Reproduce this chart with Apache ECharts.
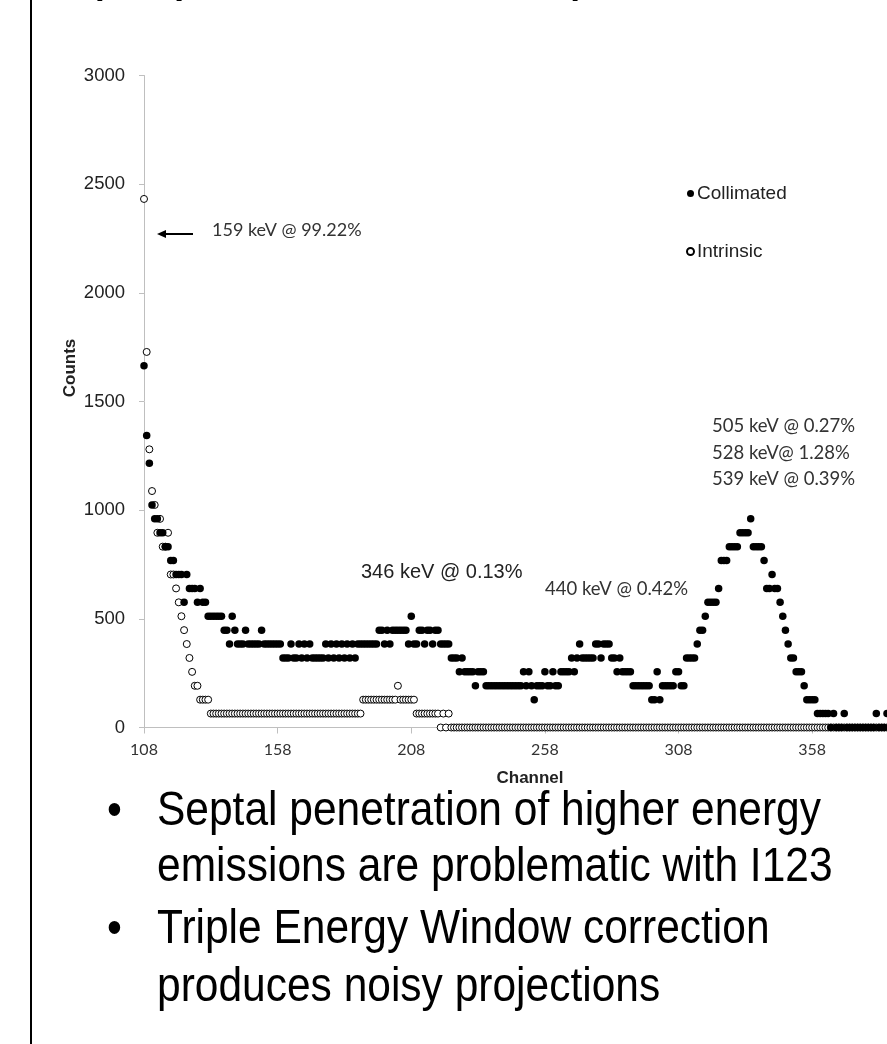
<!DOCTYPE html>
<html><head><meta charset="utf-8">
<script src="https://cdn.jsdelivr.net/npm/echarts@6/dist/echarts.min.js"></script>
<style>html,body{margin:0;padding:0;background:#fff}#c{width:887px;height:1044px}</style>
</head><body><div id="c"></div><script>
// Channel range shown (category axis)
const firstChannel = 108;
const lastChannel = 386;
const xTickLabels = ['108','158','208','258','308','358'];
const yTicks = [0,500,1000,1500,2000,2500,3000];

// Collimated counts, channels 108..386
const collimated = [
 1664,1344,1216,1024,960,960,896,896,832,832,
 768,768,704,704,704,576,704,640,640,640,
 576,640,576,576,512,512,512,512,512,512,
 448,448,384,512,448,384,384,384,448,384,
 384,384,384,384,448,384,384,384,384,384,
 384,384,320,320,320,384,320,320,384,320,
 384,320,384,320,320,320,320,320,384,320,
 384,320,384,320,384,320,384,320,384,320,
 384,384,384,384,384,384,384,384,448,448,
 384,448,384,448,448,448,448,448,448,384,
 512,384,384,448,448,384,448,448,384,448,
 448,384,384,384,384,320,320,320,256,320,
 256,256,256,256,192,256,256,256,192,192,
 192,192,192,192,192,192,192,192,192,192,
 192,192,256,192,256,192,128,192,192,192,
 256,192,192,256,192,192,256,256,256,256,
 320,256,320,384,320,320,320,320,320,384,
 384,320,384,384,384,320,320,256,320,256,
 256,256,256,192,192,192,192,192,192,192,
 128,128,256,128,192,192,192,192,192,256,
 256,192,192,320,320,320,320,384,448,448,
 512,576,576,576,576,640,768,768,768,832,
 832,832,832,896,896,896,896,960,832,832,
 832,832,768,640,640,704,640,640,576,512,
 448,384,320,320,256,256,256,192,128,128,
 128,128,64,64,64,64,64,0,64,0,
 0,0,64,0,0,0,0,0,0,0,
 0,0,0,0,64,0,0,0,64
];

// Intrinsic counts, channels 108..386
const intrinsic = [
 2432,1728,1280,1088,1024,896,960,832,832,896,
 704,704,640,576,512,448,384,320,256,192,
 192,128,128,128,128,64,64,64,64,64,
 64,64,64,64,64,64,64,64,64,64,
 64,64,64,64,64,64,64,64,64,64,
 64,64,64,64,64,64,64,64,64,64,
 64,64,64,64,64,64,64,64,64,64,
 64,64,64,64,64,64,64,64,64,64,
 64,64,128,128,128,128,128,128,128,128,
 128,128,128,128,128,192,128,128,128,128,
 128,128,64,64,64,64,64,64,64,64,
 64,0,64,0,64,0,0,0,0,0,
 0,0,0,0,0,0,0,0,0,0,
 0,0,0,0,0,0,0,0,0,0,
 0,0,0,0,0,0,0,0,0,0,
 0,0,0,0,0,0,0,0,0,0,
 0,0,0,0,0,0,0,0,0,0,
 0,0,0,0,0,0,0,0,0,0,
 0,0,0,0,0,0,0,0,0,0,
 0,0,0,0,0,0,0,0,0,0,
 0,0,0,0,0,0,0,0,0,0,
 0,0,0,0,0,0,0,0,0,0,
 0,0,0,0,0,0,0,0,0,0,
 0,0,0,0,0,0,0,0,0,0,
 0,0,0,0,0,0,0,0,0,0,
 0,0,0,0,0,0,0,0,0,0,
 0,0,0,0,0,0,0,0,0,0,
 0,0,0,0,0,0,0,0,0
];

const seriesNames = ['Collimated','Intrinsic'];
const peakNotes = ['505 keV @ 0.27%','528 keV@ 1.28%','539 keV @ 0.39%'];
const bullets = [
 ['Septal penetration of higher energy','emissions are problematic with I123'],
 ['Triple Energy Window correction','produces noisy projections']
];

const channels = [];
for (let c = firstChannel; c <= lastChannel; c++) channels.push(String(c));

const chart = echarts.init(document.getElementById('c'), null, {renderer:'canvas'});
const calib = 'Lato, "Open Sans", sans-serif';
const arial = 'Arial, "Liberation Sans", sans-serif';

function bulletText(txt, x, y) {
 return {type:'text', x:x, y:y, scaleY:1.12,
  style:{text:txt, x:0, y:0, font:'42.5px ' + arial, fill:'#000', verticalAlign:'middle'}};
}

const graphics = [
 // slide border
 {type:'line', shape:{x1:31,y1:0,x2:31,y2:1044}, style:{stroke:'#000', lineWidth:2}, z:10},
 // cut-off title
 {type:'text', style:{text:'(Septal Penetration)', x:84, y:-27, font:'57px ' + arial, fill:'#000', verticalAlign:'middle', align:'left'}},
 // 159 keV note with arrow
 {type:'text', style:{text:'159 keV @ 99.22%', x:212, y:230, font:'18px ' + calib, fill:'#333', verticalAlign:'middle'}},
 {type:'line', shape:{x1:193,y1:234,x2:164,y2:234}, style:{stroke:'#000', lineWidth:2}},
 {type:'polygon', shape:{points:[[157,234],[166,230],[166,238]]}, style:{fill:'#000'}},
 {type:'text', style:{text:'346 keV @ 0.13%', x:361, y:572, font:'20px ' + arial, fill:'#222', verticalAlign:'middle'}},
 {type:'text', style:{text:'440 keV @ 0.42%', x:545, y:589, font:'18.5px ' + calib, fill:'#333', verticalAlign:'middle'}},
 {type:'text', style:{text:peakNotes[0], x:712, y:426, font:'18.5px ' + calib, fill:'#333', verticalAlign:'middle'}},
 {type:'text', style:{text:peakNotes[1], x:712, y:453, font:'18.5px ' + calib, fill:'#333', verticalAlign:'middle'}},
 {type:'text', style:{text:peakNotes[2], x:712, y:479, font:'18.5px ' + calib, fill:'#333', verticalAlign:'middle'}},
 // axis titles
 {type:'text', rotation:Math.PI/2, x:70, y:368, style:{text:'Counts', x:0, y:0, font:'bold 17px ' + arial, fill:'#222', align:'center', verticalAlign:'middle'}},
 {type:'text', style:{text:'Channel', x:530, y:778, font:'bold 17px ' + arial, fill:'#222', align:'center', verticalAlign:'middle'}},
 // bullets
 bulletText('\u2022', 107, 812),
 bulletText(bullets[0][0], 157, 812),
 bulletText(bullets[0][1], 157, 868),
 bulletText('\u2022', 107, 930),
 bulletText(bullets[1][0], 157, 930),
 bulletText(bullets[1][1], 157, 988)
];

chart.setOption({
 animation:false,
 backgroundColor:'#fff',
 grid:{left:144, right:0, top:75.5, bottom:316.5},
 legend:{
  data:[seriesNames[0], seriesNames[1]], orient:'vertical', left:681, top:179,
  itemGap:39, itemWidth:7, itemHeight:7, icon:'circle',
  textStyle:{fontFamily:arial, fontSize:19, color:'#222', padding:[0,0,0,-2]}
 },
 xAxis:{
  type:'category', data:channels, boundaryGap:false,
  axisLine:{lineStyle:{color:'#bfbfbf', width:1}},
  axisTick:{interval:49, length:6, lineStyle:{color:'#bfbfbf'}},
  axisLabel:{interval:49, fontFamily:calib, fontSize:16, color:'#333', margin:14,
   formatter:function(v){ return xTickLabels.indexOf(v) >= 0 ? v : ''; }},
  splitLine:{show:false}
 },
 yAxis:{
  type:'value', min:yTicks[0], max:yTicks[yTicks.length-1], interval:500,
  axisLine:{show:true, lineStyle:{color:'#bfbfbf', width:1}},
  axisTick:{show:true, length:5, lineStyle:{color:'#bfbfbf'}},
  splitLine:{show:false},
  axisLabel:{fontFamily:arial, fontSize:18.5, color:'#222', margin:19,
   formatter:function(v){ return String(v); }}
 },
 series:[
  {name:seriesNames[1], type:'scatter', z:2, symbol:'circle', symbolSize:7,
   itemStyle:{color:'#fff', borderColor:'#000', borderWidth:1, opacity:1},
   data:intrinsic.map(function(v,i){return [i, v];})},
  {name:seriesNames[0], type:'scatter', z:3, symbol:'circle', symbolSize:7.5,
   itemStyle:{color:'#000', opacity:1},
   data:collimated.map(function(v,i){return [i, v];})}
 ],
 graphic:graphics
});
</script></body></html>
